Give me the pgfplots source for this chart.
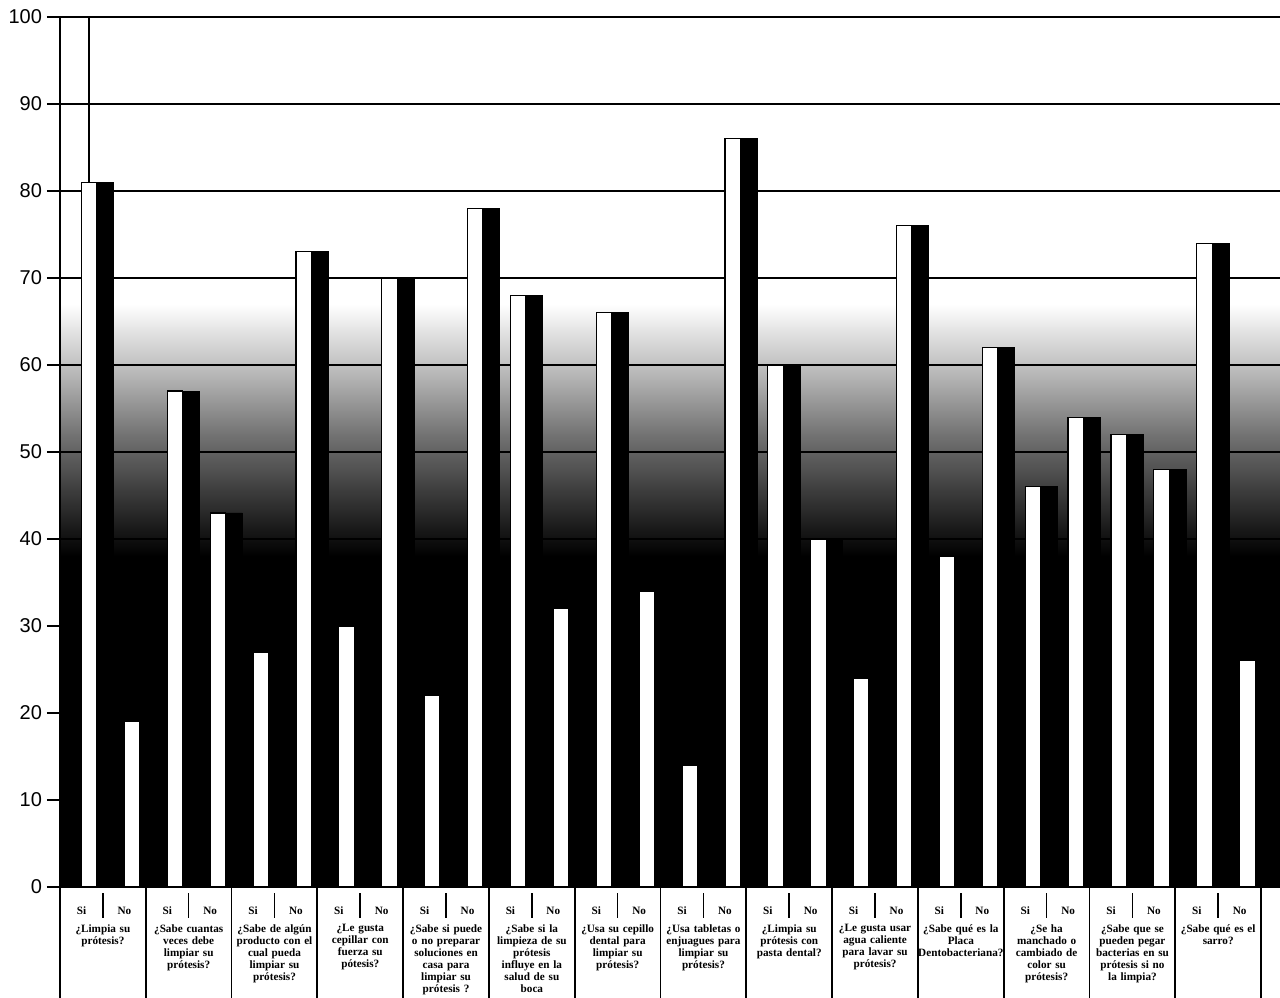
\documentclass[border=0pt]{standalone}
\usepackage{fontspec}
\setmainfont{Liberation Sans}
\newfontfamily\lblfont{Liberation Serif}
\usepackage{pgfplots}
\pgfplotsset{compat=1.18}
\pgfdeclareverticalshading{scanbg}{100bp}{color(0bp)=(black); color(44bp)=(black); color(47.5bp)=(black!78); color(51bp)=(black!55); color(54.5bp)=(black!28); color(58.5bp)=(white); color(100bp)=(white)}
\begin{document}
\begin{tikzpicture}
\useasboundingbox (0,0) rectangle (640pt,498.5pt);
\begin{axis}[
  at={(30pt,55pt)}, anchor=south west,
  width=610pt, height=435pt, scale only axis,
  xmin=-0.5, xmax=27.94, ymin=0, ymax=100,
  clip=false,
  axis y line*=left,
  axis line style={line width=0.9pt},
  axis background/.style={shading=scanbg},
  ymajorgrids, grid style={black, line width=0.8pt},
  ytick={0,10,...,100},
  ytick pos=left, tick align=outside,
  major tick length=6.5pt,
  y tick style={black, line width=0.9pt},
  y tick label style={font=\fontsize{10}{12}\selectfont, xshift=1pt},
  /pgf/number format/assume math mode=true,
  xtick={0,...,27},
  xticklabels={Si,No,Si,No,Si,No,Si,No,Si,No,Si,No,Si,No,Si,No,Si,No,Si,No,Si,No,Si,No,Si,No,Si,No},
  x tick style={draw=none},
  x tick label style={font=\lblfont\bfseries\fontsize{5.6}{6}\selectfont, yshift=0pt},
  extra x ticks={0.5,2.5,...,26.5},
  extra x tick labels={
    {¿Limpia su\\prótesis?},
    {¿Sabe cuantas\\veces debe\\limpiar su\\prótesis?},
    {¿Sabe de algún\\producto con el\\cual pueda\\limpiar su\\prótesis?},
    {¿Le gusta\\cepillar con\\fuerza su\\pótesis?},
    {¿Sabe si puede\\o no preparar\\soluciones en\\casa para\\limpiar su\\prótesis ?},
    {¿Sabe si la\\limpieza de su\\prótesis\\influye en la\\salud de su\\boca},
    {¿Usa su cepillo\\dental para\\limpiar su\\prótesis?},
    {¿Usa tabletas o\\enjuagues para\\limpiar su\\prótesis?},
    {¿Limpia su\\prótesis con\\pasta dental?},
    {¿Le gusta usar\\agua caliente\\para lavar su\\prótesis?},
    {¿Sabe qué es la\\Placa\\Dentobacteriana?},
    {¿Se ha\\manchado o\\cambiado de\\color su\\prótesis?},
    {¿Sabe que se\\pueden pegar\\bacterias en su\\prótesis si no\\la limpia?},
    {¿Sabe qué es el\\sarro?}},
  extra x tick style={grid=none,
    tick label style={font=\lblfont\bfseries\fontsize{5.5}{6.2}\selectfont,
      text width=44pt, align=center, anchor=north, yshift=-12pt, inner sep=0pt}},
]
% shadow (black side) of each bar
\addplot[ybar, bar width=0.39, bar shift=0.555, fill=black, draw=black] coordinates {
(0,81)(2,57)(4,27)(6,30)(8,22)(10,68)(12,66)(14,14)(16,60)(18,24)(20,38)(22,46)(24,52)(26,74)};
\addplot[ybar, bar width=0.39, bar shift=0.555, fill=black, draw=black] coordinates {
(1,19)(3,43)(5,73)(7,70)(9,78)(11,32)(13,34)(15,86)(17,40)(19,76)(21,62)(23,54)(25,48)(27,26)};
% white fronts: Si
\addplot[ybar, bar width=0.36, bar shift=0.18, fill=white, draw=black, line width=0.6pt] coordinates {
(0,81)(2,57)(4,27)(6,30)(8,22)(10,68)(12,66)(14,14)(16,60)(18,24)(20,38)(22,46)(24,52)(26,74)};
% white fronts: No
\addplot[ybar, bar width=0.36, bar shift=0.18, fill=white, draw=black, line width=0.6pt] coordinates {
(1,19)(3,43)(5,73)(7,70)(9,78)(11,32)(13,34)(15,86)(17,40)(19,76)(21,62)(23,54)(25,48)(27,26)};
% table dividers below the axis
\pgfplotsinvokeforeach{-0.5,1.5,...,27.5}{\draw[line width=0.9pt] (axis cs:#1,0) -- ([yshift=-56pt]axis cs:#1,0);}
\pgfplotsinvokeforeach{0.5,2.5,...,26.5}{\draw[line width=0.8pt] ([yshift=-3pt]axis cs:#1,0) -- ([yshift=-15.5pt]axis cs:#1,0);}
\draw[line width=1pt] (axis cs:0.17,81) -- (axis cs:0.17,100);
\end{axis}
\end{tikzpicture}
\end{document}
